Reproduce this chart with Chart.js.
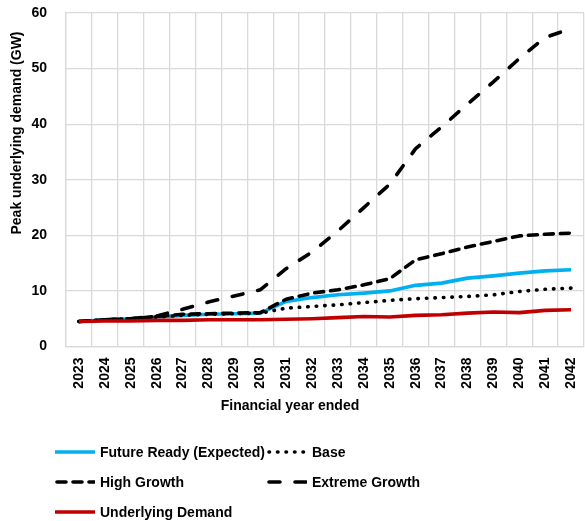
<!DOCTYPE html>
<html>
<head>
<meta charset="utf-8">
<script src="https://cdn.jsdelivr.net/npm/chart.js@4"></script>
<style>
  html, body { margin: 0; padding: 0; background: #fff; }
  #wrap { position: relative; width: 585px; height: 521px; }
  #legend { position: absolute; left: 0; top: 0; width: 585px; height: 521px; pointer-events: none;
    font-family: "Liberation Sans", Arial, sans-serif; font-weight: bold; font-size: 14px; color: #000; }
  .item { position: absolute; height: 20px; display: flex; align-items: center; }
  .item svg { margin-right: 5px; }
</style>
</head>
<body>
<div id="wrap">
  <canvas id="chart" width="585" height="521"></canvas>
  <div id="legend"></div>
</div>
<script>
const years = ['2023', '2024', '2025', '2026', '2027', '2028', '2029', '2030', '2031', '2032',
               '2033', '2034', '2035', '2036', '2037', '2038', '2039', '2040', '2041', '2042'];
const futureReady = [4.5, 4.8, 5.0, 5.3, 5.6, 5.8, 5.9, 6.0, 8.1, 8.8, 9.3, 9.6, 10.0, 11.0, 11.4, 12.3, 12.7, 13.2, 13.6, 13.8];
const base = [4.5, 4.8, 5.0, 5.3, 5.6, 5.8, 5.9, 6.0, 6.9, 7.2, 7.5, 7.9, 8.3, 8.6, 8.8, 9.0, 9.3, 9.9, 10.3, 10.5];
const highGrowth = [4.5, 4.8, 5.0, 5.4, 5.8, 5.9, 6.0, 6.1, 8.5, 9.6, 10.2, 11.1, 12.2, 15.6, 16.7, 17.9, 18.9, 19.9, 20.2, 20.4];
const extremeGrowth = [4.5, 4.8, 5.0, 5.5, 6.7, 8.0, 9.1, 10.2, 14.0, 17.0, 20.8, 25.0, 29.2, 35.6, 39.5, 43.6, 47.6, 51.8, 55.6, 57.2];
const underlying = [4.5, 4.6, 4.6, 4.7, 4.7, 4.8, 4.8, 4.8, 4.9, 5.0, 5.2, 5.4, 5.3, 5.6, 5.7, 6.0, 6.2, 6.1, 6.5, 6.6];
const yTicks = [0, 10, 20, 30, 40, 50, 60];

const font = { family: '"Liberation Sans", Arial, sans-serif', size: 14, weight: 'bold' };
const grid = '#d9d9d9';

const series = [
    { label: 'Future Ready (Expected)', data: futureReady, color: '#00b0f0', dash: [], cap: 'butt', order: 5, lx: 55, ly: 452 },
    { label: 'Base', data: base, color: '#000', dash: [0.5, 8], cap: 'round', order: 4, lx: 267, ly: 452 },
    { label: 'High Growth', data: highGrowth, color: '#000', dash: [9, 7], cap: 'round', order: 3, lx: 55, ly: 482 },
    { label: 'Extreme Growth', data: extremeGrowth, color: '#000', dash: [11, 15], cap: 'round', order: 2, lx: 267, ly: 482 },
    { label: 'Underlying Demand', data: underlying, color: '#c00000', dash: [], cap: 'butt', order: 1, lx: 55, ly: 512 }
];

// axis titles, placed like the original (not centred on the plot)
const axisTitles = {
    id: 'axisTitles',
    afterDraw(chart) {
        const c = chart.ctx;
        c.save();
        c.font = 'bold 14px "Liberation Sans", Arial, sans-serif';
        c.fillStyle = '#000';
        c.textAlign = 'center';
        c.textBaseline = 'middle';
        c.fillText('Financial year ended', 290, 406);
        c.translate(17, 133);
        c.rotate(-Math.PI / 2);
        c.fillText('Peak underlying demand (GW)', 0, 0);
        c.restore();
    }
};

new Chart(document.getElementById('chart'), {
    type: 'line',
    data: {
        labels: years,
        datasets: series.map(s => ({
            label: s.label,
            data: s.data,
            borderColor: s.color,
            borderWidth: 3.6,
            borderDash: s.dash,
            borderCapStyle: s.cap,
            borderJoinStyle: 'round',
            pointRadius: 0,
            tension: 0,
            order: s.order
        }))
    },
    options: {
        responsive: false,
        animation: false,
        layout: { padding: { top: 13, left: 0, right: 1, bottom: 91 } },
        plugins: { legend: { display: false }, tooltip: { enabled: false } },
        scales: {
            x: {
                offset: true,
                grid: { offset: true, color: grid, lineWidth: 1.3, drawTicks: false },
                border: { color: grid, width: 1.3 },
                ticks: { font: font, color: '#000', minRotation: 90, maxRotation: 90, padding: 11, autoSkip: false },
                afterFit: s => { s.height = 83.5; s.paddingLeft = 0; s.paddingRight = 0; }
            },
            y: {
                min: 0,
                max: 60,
                afterBuildTicks: s => { s.ticks = yTicks.map(v => ({ value: v })); },
                grid: { color: grid, lineWidth: 1.3, drawTicks: false },
                border: { color: grid, width: 1.3 },
                ticks: { font: font, color: '#000', padding: 19 },
                afterFit: s => { s.width = 66; s.paddingTop = 0; s.paddingBottom = 0; }
            }
        }
    },
    plugins: [axisTitles]
});

// legend in two columns, like the original
const legend = document.getElementById('legend');
series.forEach(s => {
    const item = document.createElement('div');
    item.className = 'item';
    item.style.left = s.lx + 'px';
    item.style.top = (s.ly - 10) + 'px';
    const dash = s.dash.length ? s.dash.join(' ') : 'none';
    item.innerHTML = '<svg width="40" height="8"><line x1="' + (s.cap === 'round' ? 2 : 0) + '" y1="4" x2="40" y2="4" stroke="' + s.color +
        '" stroke-width="3.6" stroke-linecap="' + s.cap + '" stroke-dasharray="' + dash + '"/></svg><span>' + s.label + '</span>';
    legend.appendChild(item);
});
</script>
</body>
</html>
